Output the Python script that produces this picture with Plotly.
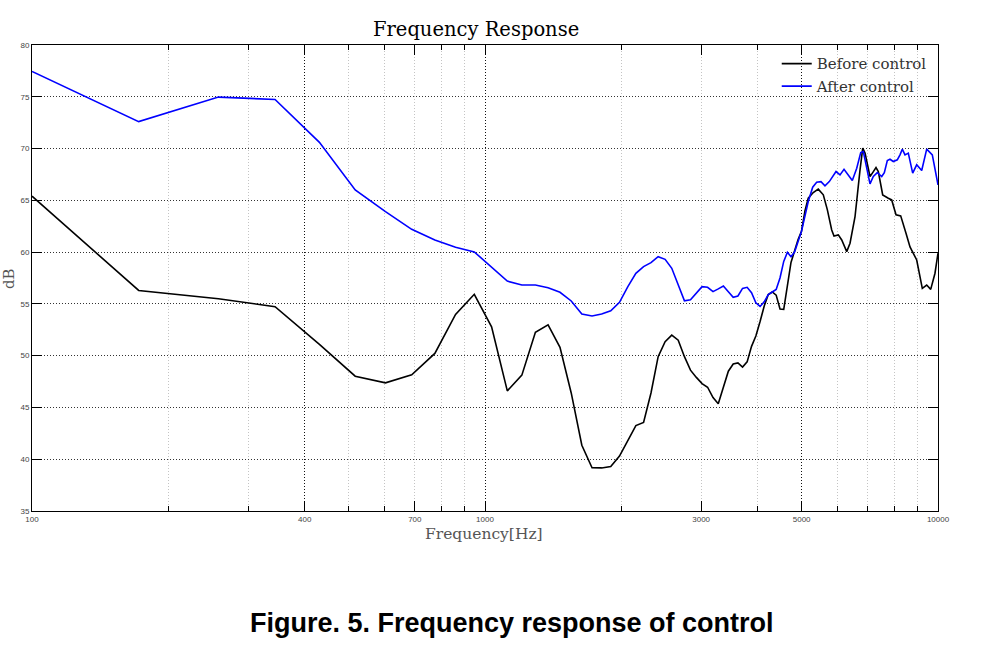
import plotly.graph_objects as go

# ---- data ----
before_freq = [100, 172, 258, 344, 431, 517, 603, 689, 775, 861, 947, 1034, 1120, 1206,
               1292, 1378, 1464, 1550, 1636, 1723, 1809, 1895, 1981, 2067, 2153, 2239,
               2325, 2411, 2498, 2584, 2670, 2756, 2842, 2928, 3014, 3100, 3187, 3273,
               3359, 3445, 3531, 3617, 3703, 3790, 3876, 3962, 4048, 4134, 4220, 4306,
               4393, 4479, 4565, 4651, 4737, 4823, 4909, 4996, 5086, 5171, 5304, 5441,
               5582, 5697, 5826, 5894, 6025, 6130, 6288, 6394, 6559, 6728, 6821, 6901,
               7078, 7176, 7297, 7383, 7550, 7768, 7903, 8078, 8273, 8499, 8674, 8974,
               9233, 9442, 9636, 9848, 10000]
before_db = [65.4, 56.3, 55.5, 54.73, 51.1, 48.02, 47.38, 48.15, 50.22, 53.99, 55.93, 52.79,
             46.6, 48.12, 52.25, 52.98, 50.8, 46.4, 41.35, 39.18, 39.16, 39.3, 40.3, 41.8,
             43.25, 43.55, 46.4, 49.9, 51.35, 51.99, 51.5, 49.9, 48.6, 47.9, 47.3, 46.95,
             45.95, 45.35, 46.9, 48.5, 49.2, 49.3, 48.9, 49.4, 50.9, 51.9, 53.3, 54.8,
             55.9, 56.15, 55.85, 54.5, 54.47, 56.6, 59.0, 60.1, 61.2, 62.0, 64.0, 65.2,
             65.75, 66.08, 65.53, 64.1, 62.14, 61.56, 61.66, 61.17, 60.05, 60.86, 63.43,
             67.94, 70.04, 69.56, 67.3, 67.68, 68.16, 67.78, 65.52, 65.2, 65.04, 63.6,
             63.5, 61.82, 60.5, 59.24, 56.5, 56.82, 56.4, 57.96, 59.9]

after_freq = [100, 172, 258, 344, 431, 517, 603, 689, 775, 861, 947, 1034, 1120, 1206,
              1292, 1378, 1464, 1550, 1636, 1723, 1809, 1895, 1981, 2067, 2153, 2239,
              2325, 2411, 2498, 2584, 2670, 2756, 2842, 2928, 3014, 3100, 3187, 3273,
              3359, 3445, 3531, 3617, 3703, 3790, 3876, 3962, 4048, 4134, 4220, 4306,
              4393, 4479, 4565, 4651, 4737, 4823, 4909, 4996, 5171, 5289, 5397, 5517,
              5630, 5755, 5955, 6077, 6202, 6339, 6469, 6616, 6752, 6842, 6961, 7078,
              7198, 7345, 7512, 7612, 7729, 7835, 7967, 8131, 8243, 8340, 8456, 8599,
              8793, 8974, 9205, 9442, 9715, 10000]
after_db = [77.45, 72.6, 74.97, 74.74, 70.6, 66.0, 63.91, 62.2, 61.17, 60.47, 60.02, 58.5,
            57.2, 56.82, 56.82, 56.56, 56.12, 55.28, 54.02, 53.83, 54.02, 54.34, 55.15,
            56.66, 57.95, 58.6, 58.98, 59.56, 59.3, 58.44, 56.82, 55.3, 55.4, 56.05, 56.66,
            56.6, 56.18, 56.45, 56.73, 56.17, 55.63, 55.76, 56.5, 56.6, 56.08, 55.1, 54.75,
            55.2, 55.9, 56.15, 56.4, 57.5, 59.1, 59.98, 59.56, 60.0, 60.9, 62.0, 64.88,
            66.27, 66.75, 66.81, 66.4, 66.81, 67.78, 67.46, 68.0, 67.46, 66.91, 68.1,
            69.62, 69.71, 68.26, 66.59, 67.3, 67.68, 67.3, 67.68, 68.84, 68.97, 68.75,
            68.91, 69.39, 69.94, 69.39, 69.56, 67.62, 68.43, 67.88, 69.94, 69.39, 66.49]

x_tick_vals = [100, 400, 700, 1000, 3000, 5000, 10000]
x_tick_text = ["100", "400", "700", "1000", "3000", "5000", "10000"]
x_minor_vals = [200, 300, 500, 600, 800, 900, 2000, 4000, 6000, 7000, 8000, 9000]
x_dark_grid = [400, 1000, 5000]
y_tick_vals = [35, 40, 45, 50, 55, 60, 65, 70, 75, 80]

SERIF = "DejaVu Serif"
SANS = "Liberation Sans"
DOT = "1px,2px"

fig = go.Figure()
fig.add_trace(go.Scatter(x=before_freq, y=before_db, mode="lines", name="Before control",
                         line=dict(color="#000000", width=1.6)))
fig.add_trace(go.Scatter(x=after_freq, y=after_db, mode="lines", name="After control",
                         line=dict(color="#0000ff", width=1.6)))
# empty trace so the overlay axis (dark grid) is drawn
fig.add_trace(go.Scatter(x=[], y=[], xaxis="x2", showlegend=False, hoverinfo="skip"))

fig.update_layout(
    width=988, height=664,
    paper_bgcolor="white", plot_bgcolor="white",
    margin=dict(l=32, r=50, t=45, b=153),
    showlegend=True,
    legend=dict(x=0.822, y=0.995, xanchor="left", yanchor="top",
                font=dict(family=SERIF, size=15, color="#333333"),
                bgcolor="rgba(0,0,0,0)", borderwidth=0, tracegroupgap=0,
                itemwidth=30),
    xaxis=dict(type="log", range=[2, 4], tickvals=x_tick_vals, ticktext=x_tick_text,
               ticks="inside", ticklen=10, tickcolor="#000", tickwidth=1,
               showline=True, linecolor="#000", linewidth=1, mirror="ticks",
               showgrid=True, gridcolor="#c4c4c4", griddash=DOT, gridwidth=1,
               tickfont=dict(family=SANS, size=8, color="#444444"),
               zeroline=False,
               minor=dict(tickvals=x_minor_vals, ticks="inside", ticklen=5,
                          tickcolor="#000", showgrid=True, gridcolor="#c4c4c4",
                          griddash=DOT, gridwidth=1)),
    xaxis2=dict(type="log", range=[2, 4], overlaying="x", tickvals=x_dark_grid,
                showticklabels=False, ticks="", showgrid=True, gridcolor="#111111",
                griddash=DOT, gridwidth=1, showline=False, zeroline=False),
    yaxis=dict(range=[35, 80], tickvals=y_tick_vals,
               ticks="inside", ticklen=10, tickcolor="#000", tickwidth=1,
               showline=True, linecolor="#000", linewidth=1, mirror="ticks",
               showgrid=True, gridcolor="#333333", griddash=DOT, gridwidth=1,
               tickfont=dict(family=SANS, size=8, color="#444444"),
               zeroline=False),
    annotations=[
        dict(text="Frequency Response", xref="paper", yref="paper", x=0.490, y=1.033,
             xanchor="center", yanchor="middle", showarrow=False,
             font=dict(family=SERIF, size=19.5, color="#000000")),
        dict(text="Frequency[Hz]", xref="paper", yref="paper", x=0.499, y=-0.050,
             xanchor="center", yanchor="middle", showarrow=False,
             font=dict(family=SERIF, size=15.5, color="#555555")),
        dict(text="dB", xref="paper", yref="paper", x=-0.0255, y=0.4996,
             xanchor="center", yanchor="middle", showarrow=False, textangle=-90,
             font=dict(family=SERIF, size=15, color="#555555")),
        dict(text="<b>Figure. 5. Frequency response of control</b>", xref="paper",
             yref="paper", x=0.530, y=-0.2395, xanchor="center", yanchor="middle",
             showarrow=False, font=dict(family=SANS, size=27, color="#000000")),
    ],
)

fig.write_html("out.html", config={"displayModeBar": False},
               post_script="document.body.style.margin='0';")
